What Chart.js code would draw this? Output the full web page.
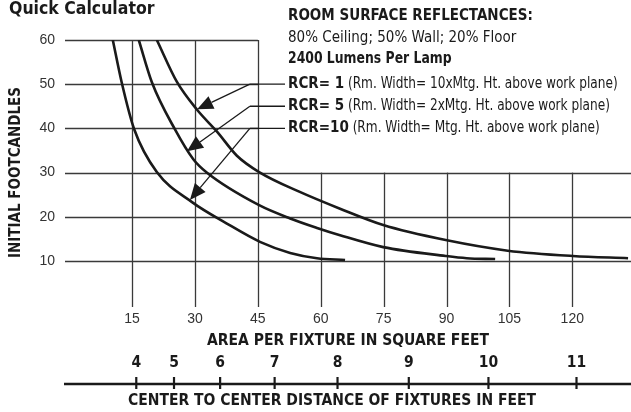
<!DOCTYPE html>
<html lang="en">
<head>
<meta charset="UTF-8" />
<title>Quick Calculator</title>
<script src="https://cdn.jsdelivr.net/npm/chart.js"></script>
<style>
  html, body { margin: 0; padding: 0; background: #fff; }
  #wrap { width: 631px; height: 412px; position: relative; }
</style>
</head>
<body>
<div id="wrap"><canvas id="chart" width="631" height="412"></canvas></div>
<script>
// Data
const areaTicks = [15, 30, 45, 60, 75, 90, 105, 120];
const fcTicks = [10, 20, 30, 40, 50, 60];
const feetTicks = [4, 5, 6, 7, 8, 9, 10, 11];

const rcr1Area = [20.9, 25.7, 30.5, 35.3, 40, 45.3, 55, 64.6, 74.9, 89.8, 104.6, 120.1, 133.3];
const rcr1Fc   = [60, 50.5, 44.2, 39.2, 33.8, 30.1, 25.6, 21.8, 18.1, 14.7, 12.3, 11.1, 10.6];

const rcr5Area = [16.6, 19.7, 25.2, 29.6, 32.8, 45.3, 52.7, 59.3, 64.6, 74.9, 89.8, 94.8, 101.6];
const rcr5Fc   = [60, 50.5, 39.8, 33.0, 30, 22.6, 19.6, 17.4, 15.8, 13.1, 11.1, 10.6, 10.4];

const rcr10Area = [10.4, 12.5, 15.5, 20.9, 29.3, 37.5, 45.5, 52.7, 59.1, 65.8];
const rcr10Fc   = [60, 50.5, 39.8, 30.1, 23.3, 18.5, 14.3, 11.8, 10.6, 10.2];

const rcrLabels = ['RCR= 1', 'RCR= 5', 'RCR=10'];
const rcrNotes = [
    ' (Rm. Width= 10xMtg. Ht. above work plane)',
    ' (Rm. Width= 2xMtg. Ht. above work plane)',
    ' (Rm. Width= Mtg. Ht. above work plane)'
];

const NARROW = "'Liberation Sans Narrow', 'DejaVu Sans Condensed', sans-serif";
const INK = '#1a1a1a';

function toPoints(xs, ys) {
    return xs.map((x, i) => ({ x: x, y: ys[i] }));
}

function curve(xs, ys) {
    return {
        data: toPoints(xs, ys),
        borderColor: INK,
        borderWidth: 2.6,
        pointRadius: 0,
        fill: false,
        cubicInterpolationMode: 'monotone'
    };
}

// partial grid: upper rows stop at 45 sq ft, right columns start at 30 fc
const gridPlugin = {
    id: 'grid',
    beforeDatasetsDraw(chart) {
        const { ctx, chartArea, scales: { x, y } } = chart;
        ctx.save();
        ctx.strokeStyle = '#3a3a3a';
        ctx.lineWidth = 1.3;
        ctx.beginPath();
        fcTicks.forEach(v => {
            const py = Math.round(y.getPixelForValue(v)) + 0.5;
            const right = v > 30 ? x.getPixelForValue(45) : chartArea.right;
            ctx.moveTo(chartArea.left, py);
            ctx.lineTo(right, py);
        });
        areaTicks.forEach(v => {
            const px = Math.round(x.getPixelForValue(v)) + 0.5;
            const top = v > 45 ? y.getPixelForValue(30) : y.getPixelForValue(60);
            ctx.moveTo(px, top);
            ctx.lineTo(px, chartArea.bottom + 2);
        });
        ctx.stroke();
        ctx.restore();
    }
};

function arrow(ctx, x0, y0, x1, y1) {
    const ang = Math.atan2(y1 - y0, x1 - x0);
    const len = 16, half = 7;
    const bx = x1 - len * Math.cos(ang), by = y1 - len * Math.sin(ang);
    ctx.beginPath();
    ctx.moveTo(x0, y0);
    ctx.lineTo(bx, by);
    ctx.stroke();
    ctx.beginPath();
    ctx.moveTo(x1, y1);
    ctx.lineTo(bx + half * Math.sin(ang), by - half * Math.cos(ang));
    ctx.lineTo(bx - half * Math.sin(ang), by + half * Math.cos(ang));
    ctx.closePath();
    ctx.fill();
}

// text squeezed horizontally to imitate the condensed face of the original
function squeezed(ctx, text, x, y, sx) {
    ctx.save();
    ctx.translate(x, y);
    ctx.scale(sx, 1);
    ctx.fillText(text, 0, 0);
    ctx.restore();
    return ctx.measureText(text).width * sx;
}

const notesPlugin = {
    id: 'notes',
    afterDraw(chart) {
        const { ctx, chartArea, scales: { x, y } } = chart;
        ctx.save();
        ctx.fillStyle = INK;
        ctx.strokeStyle = INK;
        ctx.textBaseline = 'middle';
        ctx.textAlign = 'left';

        ctx.font = 'bold 17.5px ' + NARROW;
        ctx.fillText('Quick Calculator', 9, 9);

        const tx = 288;
        ctx.font = 'bold 15px ' + NARROW;
        ctx.fillText('ROOM SURFACE REFLECTANCES:', tx, 16);
        ctx.font = '15px ' + NARROW;
        ctx.fillText('80% Ceiling; 50% Wall; 20% Floor', tx, 38);
        ctx.font = 'bold 15px ' + NARROW;
        squeezed(ctx, '2400 Lumens Per Lamp', tx, 59, 0.92);

        // leaders: start at 43 sq ft, rows at 50/45/40 fc, tips on the curves
        const rows = [50, 45, 40];
        const tips = [[30.5, 44.3], [28.1, 34.8], [28.8, 23.8]];
        ctx.lineWidth = 1.3;
        rows.forEach((fc, i) => {
            const py = y.getPixelForValue(fc);
            const px = x.getPixelForValue(43.1);
            ctx.beginPath();
            ctx.moveTo(px, py);
            ctx.lineTo(tx - 3, py);
            ctx.stroke();
            arrow(ctx, px, py, x.getPixelForValue(tips[i][0]), y.getPixelForValue(tips[i][1]));

            ctx.font = 'bold 15px ' + NARROW;
            ctx.fillText(rcrLabels[i], tx, py);
            const w = ctx.measureText(rcrLabels[i]).width;
            ctx.font = '15px ' + NARROW;
            squeezed(ctx, rcrNotes[i], tx + w, py, 0.9);
        });

        // second scale: spacing in feet, placed where area = spacing squared
        const lineY = 384;
        ctx.lineWidth = 2.6;
        ctx.beginPath();
        ctx.moveTo(chartArea.left - 1, lineY);
        ctx.lineTo(chart.width, lineY);
        ctx.stroke();
        ctx.lineWidth = 2.2;
        ctx.textAlign = 'center';
        ctx.font = 'bold 15.5px ' + NARROW;
        feetTicks.forEach(d => {
            const px = x.getPixelForValue(d * d);
            ctx.beginPath();
            ctx.moveTo(px, lineY - 7);
            ctx.lineTo(px, lineY + 5);
            ctx.stroke();
            ctx.fillText(String(d), px, lineY - 21);
        });
        ctx.fillText('CENTER TO CENTER DISTANCE OF FIXTURES IN FEET', 332, 401);
        ctx.restore();
    }
};

new Chart(document.getElementById('chart'), {
    type: 'line',
    data: {
        datasets: [
            curve(rcr1Area, rcr1Fc),
            curve(rcr5Area, rcr5Fc),
            curve(rcr10Area, rcr10Fc)
        ]
    },
    options: {
        responsive: false,
        animation: false,
        layout: { padding: { top: 40, right: 0, bottom: 62, left: 0 } },
        plugins: { legend: { display: false }, tooltip: { enabled: false } },
        scales: {
            x: {
                type: 'linear',
                min: -1,
                max: 134,
                grid: { display: false, drawTicks: false },
                border: { display: false },
                afterBuildTicks: s => { s.ticks = areaTicks.map(v => ({ value: v })); },
                afterFit: s => { s.height = 45; },
                ticks: {
                    padding: 6,
                    color: '#333',
                    font: { family: 'Liberation Sans', size: 14 }
                },
                title: {
                    display: true,
                    text: 'AREA PER FIXTURE IN SQUARE FEET',
                    color: INK,
                    padding: 0,
                    font: { family: NARROW, size: 15.5, weight: 'bold' }
                }
            },
            y: {
                min: 0,
                max: 60,
                grid: { display: false, drawTicks: false },
                border: { display: false },
                afterBuildTicks: s => { s.ticks = fcTicks.map(v => ({ value: v })); },
                afterFit: s => { s.width = 65; },
                ticks: {
                    padding: 10,
                    color: '#333',
                    font: { family: 'Liberation Sans', size: 14 }
                },
                title: {
                    display: true,
                    text: 'INITIAL FOOTCANDLES',
                    color: INK,
                    padding: { top: 7, bottom: 0 },
                    font: { family: NARROW, size: 15, weight: 'bold' }
                }
            }
        }
    },
    plugins: [gridPlugin, notesPlugin]
});
</script>
</body>
</html>
